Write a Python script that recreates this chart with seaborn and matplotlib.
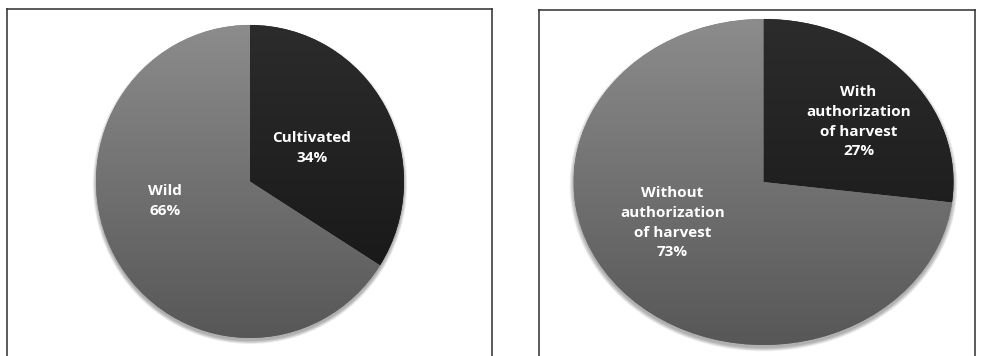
import numpy as np
import matplotlib
matplotlib.use("Agg")
import matplotlib.pyplot as plt
from matplotlib.colors import LinearSegmentedColormap
from matplotlib.patches import Ellipse
import seaborn as sns

# ---- data ----
left_labels = ["Cultivated", "Wild"]
left_values = [34, 66]
right_labels = ["With\nauthorization\nof harvest", "Without\nauthorization\nof harvest"]
right_values = [27, 73]

sns.set_theme(style="white")
plt.rcParams['font.family'] = ['Open Sans', 'DejaVu Sans']

W, H = 985, 356
fig = plt.figure(figsize=(W / 100, H / 100), dpi=100)
fig.patch.set_facecolor("white")

dark_cmap = LinearSegmentedColormap.from_list("dk", ["#141414", "#2c2c2c"])
gray_cmap = LinearSegmentedColormap.from_list("gr", ["#575757", "#8c8c8c"])


def panel(px0, px1, py0, py1, cx, cy, rx, ry, values, labels, label_xy):
    ax = fig.add_axes([px0 / W, (H - py1) / H, (px1 - px0) / W, (py1 - py0) / H])
    # soft shadow
    for k in range(8):
        ax.add_patch(Ellipse((0, -0.018), 2 * (1 + 0.003 * k), 2 * (1 + 0.003 * k),
                             facecolor="black", edgecolor="none", alpha=0.045, zorder=0))
    wedges, _ = ax.pie(values, startangle=90, counterclock=False, radius=1,
                       colors=["#222222", "#707070"],
                       wedgeprops=dict(linewidth=0))
    for w, cm in zip(wedges, [dark_cmap, gray_cmap]):
        w.set_zorder(1)
        grad = np.linspace(0, 1, 256).reshape(-1, 1)
        im = ax.imshow(grad, extent=(-1, 1, -1, 1), origin="lower", cmap=cm,
                       aspect="auto", zorder=2, interpolation="bilinear")
        im.set_clip_path(w)
    for (lx, ly), lab, v in zip(label_xy, labels, values):
        ax.text(lx, ly, f"{lab}\n{v}%", ha="center", va="center", color="white",
                fontsize=11, fontweight="bold", linespacing=1.52, zorder=5)
    ax.set_aspect("auto")
    ax.set_xlim((px0 - cx) / rx, (px1 - cx) / rx)
    ax.set_ylim((cy - py1) / ry, (cy - py0) / ry)
    ax.set_frame_on(True)
    for s in ax.spines.values():
        s.set_visible(True)
        s.set_color("#2e2e2e")
        s.set_linewidth(1.1)
    ax.set_xticks([])
    ax.set_yticks([])
    return ax


panel(7, 492, 9, 362, 250, 181.5, 154, 156.5, left_values, left_labels,
      [(0.40, 0.215), (-0.55, -0.125)])
panel(539, 975, 10, 362, 763.5, 182, 190, 163, right_values, right_labels,
      [(0.50, 0.37), (-0.48, -0.25)])

fig.savefig("out.png", dpi=100, facecolor="white")
